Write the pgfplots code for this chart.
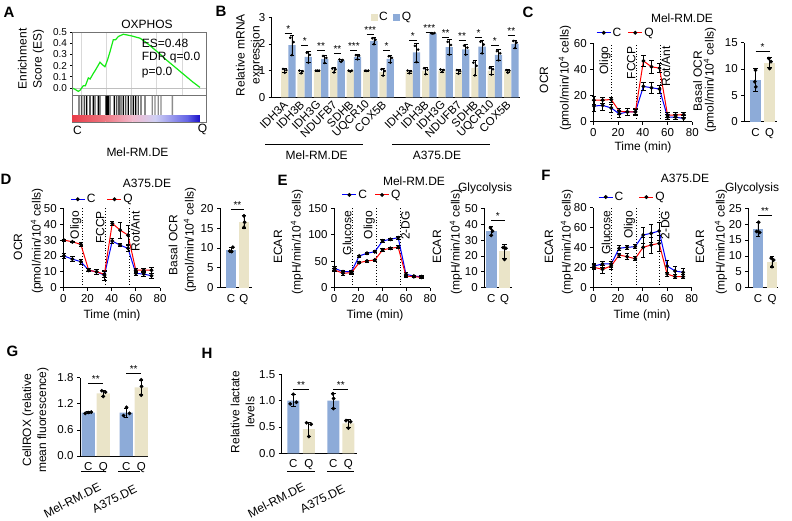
\documentclass[border=0pt]{standalone}
\usepackage{fontspec}
\setmainfont{Liberation Sans}
\usepackage{pgfplots}
\pgfplotsset{compat=1.18}

\definecolor{cblue}{RGB}{141,171,216}
\definecolor{cbeige}{RGB}{234,228,200}
\definecolor{esg}{RGB}{20,235,20}
\definecolor{cb1}{RGB}{232,60,72}
\definecolor{cb2}{RGB}{238,120,130}
\definecolor{cb3}{RGB}{242,185,205}
\definecolor{cb4}{RGB}{208,208,244}
\definecolor{cb5}{RGB}{100,100,230}
\definecolor{cb6}{RGB}{25,15,200}

\newcommand\fa{\fontsize{12}{15}\selectfont}
\newcommand\ft{\fontsize{11.5}{13}\selectfont}
\newcommand\fsm{\fontsize{10}{11}\selectfont}
\newcommand\fs{\fontsize{10}{10}\selectfont}
\newcommand\fp{\fontsize{15}{16}\selectfont\bfseries}
\newcommand\upm{(pmol/min/10\textsuperscript{4} cells)}
\newcommand\ump{(mpH/min/10\textsuperscript{4} cells)}

\pgfplotsset{
  every axis/.append style={scale only axis, clip=false, enlargelimits=false,
    axis line style={line width=0.8pt,-}, tick style={black,line width=0.8pt},
    major tick length=3pt, tick align=outside, tick label style={font=\ft},
    /pgf/number format/assume math mode=true},
  lr/.style={axis x line*=bottom, axis y line*=left},
  ebar/.style={error bars/y dir=both, error bars/y explicit,
    error bars/error bar style={black,line width=0.7pt,solid},
    error bars/error mark options={rotate=90,black,mark size=2.2pt,line width=0.7pt}},
  lc/.style={lr, xmin=0, xmax=80, xtick={0,20,40,60,80}, ymin=0,
    legend columns=2,
    legend style={draw=none, fill=none, anchor=south west, font=\fa, inner sep=0pt,
      nodes={inner sep=1.5pt}},
    legend image code/.code={\draw[mark repeat=2,mark phase=2,##1] plot coordinates {(0pt,0pt)(7pt,0pt)(14pt,0pt)};}},
  cl/.style={blue, line width=1pt, mark=*, mark size=1.4pt, mark options={black,fill=black}, ebar},
  ql/.style={red, line width=1pt, mark=*, mark size=1.4pt, mark options={black,fill=black}, ebar},
  bx/.style={lr, ymin=0, major x tick style={draw=none}},
  bar/.style={ybar, bar shift=0pt, draw=none, ebar},
  dots/.style={only marks, mark=*, mark size=1.7pt, black, forget plot},
  sdots/.style={only marks, mark=*, mark size=1.1pt, black, forget plot},
}

\begin{document}
\begin{tikzpicture}
\useasboundingbox (0,0) rectangle (792pt,-521pt);

\foreach \l/\x/\y in {A/9/12,B/221/11,C/528/12,D/6/179,E/282.5/180,F/546/175,G/12.5/351,H/207/353}
  \node[font=\fp] at (\x pt,-\y pt) {\l};

% ---------------- A: GSEA
\begin{axis}[at={(72pt,-95pt)}, anchor=south west, width=134pt, height=63pt,
  xmin=0, xmax=100, ymin=-0.0625, ymax=0.5,
  axis y line*=left, axis x line=none,
  axis line style={black!55,line width=0.6pt},
  ytick={0,0.1,0.2,0.3,0.4,0.5},
  yticklabels={0.0,0.1,0.2,0.3,0.4,0.5},
  major tick length=1.5pt,
  tick label style={font=\fsm}]
  \draw[black!15,line width=0.4pt] (axis cs:7,-0.0625) -- (axis cs:7,0.5);
  \draw[black!15,line width=0.4pt] (axis cs:25.8,-0.0625) -- (axis cs:25.8,0.5);
  \draw[black!15,line width=0.4pt] (axis cs:44.5,-0.0625) -- (axis cs:44.5,0.5);
  \draw[black!15,line width=0.4pt] (axis cs:63.2,-0.0625) -- (axis cs:63.2,0.5);
  \draw[black!15,line width=0.4pt] (axis cs:81.9,-0.0625) -- (axis cs:81.9,0.5);
  \draw[black!25,line width=0.5pt] (axis cs:0,0) -- (axis cs:100,0);
  \addplot[esg, line width=1.2pt] coordinates {
    (0,0.0) (2,-0.01) (4.7,-0.03) (6,-0.02) (8.4,0.02) (10,0.02) (12.2,0.09) (13.5,0.08)
    (15.9,0.13) (17.5,0.16) (20.9,0.23) (22.5,0.21) (24.6,0.19) (26.5,0.25) (28.5,0.33)
    (30.8,0.43) (32.5,0.43) (34.6,0.46) (36.5,0.47) (38.3,0.48) (40.5,0.475) (42.5,0.47)
    (44.6,0.465) (47.5,0.455) (50.7,0.445) (55,0.41) (60,0.36) (65,0.31) (70,0.255)
    (75,0.205) (80,0.155) (85,0.105) (90,0.055) (95.5,0.005)};
  \draw[black!55,line width=0.6pt] (rel axis cs:0,0) rectangle (rel axis cs:1,1);
\end{axis}
\begin{axis}[at={(72pt,-122.5pt)}, anchor=south west, width=134pt, height=27.5pt,
  xmin=0, xmax=100, ymin=0, ymax=27.5, xtick=\empty, ytick=\empty,
  axis line style={black!55,line width=0.6pt}]
  \shade[left color=cb1, right color=cb2] (axis cs:0,0.6) rectangle (axis cs:25,6.5);
  \shade[left color=cb2, right color=cb3] (axis cs:25,0.6) rectangle (axis cs:45,6.5);
  \shade[left color=cb3, right color=cb4] (axis cs:45,0.6) rectangle (axis cs:62,6.5);
  \shade[left color=cb4, right color=cb5] (axis cs:62,0.6) rectangle (axis cs:86,6.5);
  \shade[left color=cb5, right color=cb6] (axis cs:86,0.6) rectangle (axis cs:95.5,6.5);
\end{axis}
\begin{axis}[at={(72pt,-115pt)}, anchor=south west, width=134pt, height=19pt,
  xmin=0, xmax=100, ymin=0, ymax=1, hide axis]
  \addplot[ybar, bar width=1.3pt, fill=black!45, draw=none] coordinates {
    (59.9,1) (61.9,1) (64.4,1) (66.4,1) (74.9,1)};
  \addplot[ybar, bar width=1.3pt, fill=black!70, draw=none] coordinates {
    (5.2,1) (7.2,1) (9.2,1) (17.2,1) (20.9,1) (28.4,1) (33.3,1) (36.6,1) (40,1)
    (44,1) (49.5,1) (51.5,1) (54.5,1)};
  \addplot[ybar, bar width=1.3pt, fill=black, draw=none] coordinates {
    (10.9,1) (13.4,1) (15.9,1) (19.7,1) (25.3,1) (25.9,1) (26.5,1) (27.1,1) (31.6,1)
    (35.1,1) (38.3,1) (42,1) (45.8,1) (47.5,1)};
\end{axis}
\node[font=\fa] at (147pt,-24pt) {OXPHOS};
\node[font=\fa, anchor=west, inner sep=0pt] at (141.7pt,-43pt) {ES=0.48};
\node[font=\fa, anchor=west, inner sep=0pt] at (141.7pt,-58pt) {FDR q=0.0};
\node[font=\fa, anchor=west, inner sep=0pt] at (141.7pt,-73pt) {p=0.0};
\node[font=\fa] at (77.5pt,-130pt) {C};
\node[font=\fa] at (202.5pt,-129pt) {Q};
\node[font=\fa] at (137.5pt,-152pt) {Mel-RM.DE};
\node[font=\fa, rotate=90, align=center] at (31pt,-59pt) {Enrichment\\Score (ES)};

% ---------------- B: mRNA
\begin{axis}[lr, at={(271.7pt,-97.3pt)}, anchor=south west, width=248.3pt, height=80pt,
  xmin=-1.012, xmax=14.13, ymin=0, ymax=3, ytick={0,1,2,3},
  xtick={0,1,2,3,4,5,6,7.6,8.6,9.6,10.6,11.6,12.6,13.6},
  xticklabels={IDH3A,IDH3B,IDH3G,NDUFB7,SDHB,UQCR10,COX5B,IDH3A,IDH3B,IDH3G,NDUFB7,SDHB,UQCR10,COX5B},
  xticklabel style={rotate=45, anchor=east, font=\fontsize{11.5}{12}\selectfont},
  major x tick style={draw=none},
  legend columns=2,
  legend style={draw=none, fill=none, at={(0.398,1.0)}, anchor=west, font=\fa, inner sep=0pt,
    nodes={inner sep=1.5pt}, /tikz/every even column/.append style={column sep=4pt}},
  legend image code/.code={\fill[#1] (0pt,-3.5pt) rectangle (7pt,3.5pt);}]
  \addplot[bar, bar width=0.445, fill=cbeige] coordinates {
    (-0.22,1.00) +- (0,0.08) (0.78,0.96) +- (0,0.06) (1.78,1.00) +- (0,0.01)
    (2.78,1.02) +- (0,0.09) (3.78,0.99) +- (0,0.02) (4.78,1.00) +- (0,0.01)
    (5.78,0.95) +- (0,0.14) (7.38,0.96) +- (0,0.06) (8.38,1.00) +- (0,0.13)
    (9.38,1.00) +- (0,0.05) (10.38,0.96) +- (0,0.08) (11.38,1.10) +- (0,0.28)
    (12.38,1.00) +- (0,0.15) (13.38,0.98) +- (0,0.06)};
  \addlegendentry{C}
  \addplot[bar, bar width=0.445, fill=cblue] coordinates {
    (0.22,1.96) +- (0,0.38) (1.22,1.52) +- (0,0.22) (2.22,1.44) +- (0,0.15)
    (3.22,1.38) +- (0,0.05) (4.22,1.52) +- (0,0.09) (5.22,2.12) +- (0,0.13)
    (6.22,1.44) +- (0,0.14) (7.82,1.68) +- (0,0.36) (8.82,2.40) +- (0,0.01)
    (9.82,1.88) +- (0,0.28) (10.82,1.80) +- (0,0.20) (11.82,1.90) +- (0,0.25)
    (12.82,1.59) +- (0,0.20) (13.82,2.00) +- (0,0.15)};
  \addlegendentry{Q}
  \addplot[sdots] coordinates {
    (-0.32,1.06) (-0.12,1.02) (-0.22,0.92) (0.68,1.00) (0.88,0.98) (0.78,0.90)
    (1.68,1.0) (1.88,1.0) (1.78,1.0) (2.68,1.08) (2.88,1.05) (2.78,0.93)
    (3.68,1.0) (3.88,1.0) (3.78,0.97) (4.68,1.0) (4.88,1.0) (4.78,0.99)
    (5.68,1.05) (5.88,0.99) (5.78,0.81) (7.28,1.0) (7.48,0.98) (7.38,0.90)
    (8.28,1.09) (8.48,1.04) (8.38,0.87) (9.28,1.04) (9.48,1.02) (9.38,0.95)
    (10.28,1.02) (10.48,0.98) (10.38,0.88) (11.28,1.3) (11.48,1.18) (11.38,0.82)
    (12.28,1.1) (12.48,1.05) (12.38,0.85) (13.28,1.02) (13.48,1.0) (13.38,0.92)};
  \addplot[sdots] coordinates {
    (0.12,2.23) (0.32,2.07) (0.22,1.58) (1.12,1.67) (1.32,1.59) (1.22,1.30)
    (2.12,1.55) (2.32,1.48) (2.22,1.29) (3.12,1.42) (3.32,1.4) (3.22,1.33)
    (4.12,1.58) (4.32,1.55) (4.22,1.43) (5.12,2.21) (5.32,2.16) (5.22,1.99)
    (6.12,1.54) (6.32,1.48) (6.22,1.30) (7.72,1.93) (7.92,1.79) (7.82,1.32)
    (8.72,2.4) (8.92,2.41) (8.82,2.39) (9.72,2.08) (9.92,1.96) (9.82,1.6)
    (10.72,1.94) (10.92,1.86) (10.82,1.6) (11.72,2.08) (11.92,1.98) (11.82,1.65)
    (12.72,1.73) (12.92,1.65) (12.82,1.39) (13.72,2.11) (13.92,2.05) (13.82,1.85)};
  \draw[line width=0.6pt] (axis cs:-0.22,2.40) -- (axis cs:0.22,2.40) node[midway,above,inner sep=0.5pt,font=\fs] {*};
  \draw[line width=0.6pt] (axis cs:0.78,1.94) -- (axis cs:1.22,1.94) node[midway,above,inner sep=0.5pt,font=\fs] {*};
  \draw[line width=0.6pt] (axis cs:1.78,1.77) -- (axis cs:2.22,1.77) node[midway,above,inner sep=0.5pt,font=\fs] {**};
  \draw[line width=0.6pt] (axis cs:2.78,1.65) -- (axis cs:3.22,1.65) node[midway,above,inner sep=0.5pt,font=\fs] {**};
  \draw[line width=0.6pt] (axis cs:3.78,1.77) -- (axis cs:4.22,1.77) node[midway,above,inner sep=0.5pt,font=\fs] {***};
  \draw[line width=0.6pt] (axis cs:4.78,2.36) -- (axis cs:5.22,2.36) node[midway,above,inner sep=0.5pt,font=\fs] {***};
  \draw[line width=0.6pt] (axis cs:5.78,1.75) -- (axis cs:6.22,1.75) node[midway,above,inner sep=0.5pt,font=\fs] {*};
  \draw[line width=0.6pt] (axis cs:7.38,2.12) -- (axis cs:7.82,2.12) node[midway,above,inner sep=0.5pt,font=\fs] {*};
  \draw[line width=0.6pt] (axis cs:8.38,2.45) -- (axis cs:8.82,2.45) node[midway,above,inner sep=0.5pt,font=\fs] {***};
  \draw[line width=0.6pt] (axis cs:9.38,2.25) -- (axis cs:9.82,2.25) node[midway,above,inner sep=0.5pt,font=\fs] {**};
  \draw[line width=0.6pt] (axis cs:10.38,2.12) -- (axis cs:10.82,2.12) node[midway,above,inner sep=0.5pt,font=\fs] {**};
  \draw[line width=0.6pt] (axis cs:11.38,2.25) -- (axis cs:11.82,2.25) node[midway,above,inner sep=0.5pt,font=\fs] {*};
  \draw[line width=0.6pt] (axis cs:12.38,1.94) -- (axis cs:12.82,1.94) node[midway,above,inner sep=0.5pt,font=\fs] {*};
  \draw[line width=0.6pt] (axis cs:13.38,2.31) -- (axis cs:13.82,2.31) node[midway,above,inner sep=0.5pt,font=\fs] {**};
\end{axis}
\node[font=\fa, rotate=90, align=center] at (249pt,-55pt) {Relative mRNA\\expression};
\draw[line width=0.8pt] (265pt,-144pt) -- (363pt,-144pt);
\draw[line width=0.8pt] (392pt,-144pt) -- (490pt,-144pt);
\node[font=\fa] at (316.7pt,-155pt) {Mel-RM.DE};
\node[font=\fa] at (437pt,-155pt) {A375.DE};

% ---------------- C: OCR Mel
\begin{axis}[lc, at={(593.3pt,-121.7pt)}, anchor=south west, width=99pt, height=78.4pt,
  ymax=60, ytick={0,20,40,60},
  legend style={at={(0.027,1.05)}, /tikz/every even column/.append style={column sep=5pt}}]
  \draw[dotted,line width=0.8pt] (axis cs:15,0) -- (axis cs:15,60);
  \draw[dotted,line width=0.8pt] (axis cs:35,0) -- (axis cs:35,60);
  \draw[dotted,line width=0.8pt] (axis cs:54,0) -- (axis cs:54,60);
  \addplot[cl] coordinates {(0.5,12) +- (0,4) (7.5,12.5) +- (0,4) (14.5,10.5) +- (0,3)
    (21,6) +- (0,3) (27.5,7.5) +- (0,3) (34,7.5) +- (0,3) (40.5,27) +- (0,3)
    (47,26) +- (0,4) (53.5,25) +- (0,3) (60,3.5) +- (0,2) (66.5,3.5) +- (0,2) (73,2.5) +- (0,2)};
  \addlegendentry{C}
  \addplot[ql] coordinates {(0.5,16.5) +- (0,3) (7.5,16.5) +- (0,2.5) (14.5,17) +- (0,2)
    (21,8) +- (0,2) (27.5,7.5) +- (0,2.5) (34,7.5) +- (0,2) (40.5,46.5) +- (0,4.5)
    (47,42) +- (0,5) (53.5,41) +- (0,3.5) (60,5) +- (0,2) (66.5,5) +- (0,2) (73,5.5) +- (0,2)};
  \addlegendentry{Q}
  \node[font=\fa, rotate=90, anchor=south east, inner sep=1pt] at (axis cs:15,58.5) {Oligo};
  \node[font=\fa, rotate=90, anchor=south east, inner sep=1pt] at (axis cs:35,58.5) {FCCP};
  \node[font=\fa, rotate=90, anchor=north east, inner sep=1pt] at (axis cs:54,58.5) {Rot/Ant};
\end{axis}
\node[font=\fa] at (682pt,-18pt) {Mel-RM.DE};
\node[font=\fa] at (643pt,-147pt) {Time (min)};
\node[font=\fa, rotate=90] at (544pt,-80pt) {OCR};
\node[font=\fa, rotate=90] at (565pt,-78pt) {\upm};

\begin{axis}[bx, at={(744.3pt,-121.7pt)}, anchor=south west, width=32.4pt, height=79pt,
  xmin=-0.8, xmax=1.51, ymax=15, ytick={0,5,10,15}, xtick={0,1}, xticklabels={C,Q}]
  \addplot[bar, bar width=0.79, fill=cblue] coordinates {(0,8.0) +- (0,2.2)};
  \addplot[bar, bar width=0.79, fill=cbeige] coordinates {(1,11.2) +- (0,0.95)};
  \addplot[dots] coordinates {(0,9.8) (-0.05,7.6) (0.02,6.6) (0.95,12.0) (1.1,11.4) (1.0,10.1)};
  \draw[line width=0.7pt] (axis cs:0,13.3) -- (axis cs:1,13.3) node[midway,above,inner sep=0.5pt,font=\fs] {*};
\end{axis}
\node[font=\fa, rotate=90] at (697.5pt,-81pt) {Basal OCR};
\node[font=\fa, rotate=90] at (710pt,-80pt) {\upm};

% ---------------- D: OCR A375
\begin{axis}[lc, at={(63.3pt,-287.7pt)}, anchor=south west, width=96.7pt, height=79.4pt,
  ymax=50, ytick={0,10,20,30,40,50},
  legend style={at={(0.07,1.03)}, /tikz/every even column/.append style={column sep=10pt}}]
  \draw[dotted,line width=0.8pt] (axis cs:16,0) -- (axis cs:16,50);
  \draw[dotted,line width=0.8pt] (axis cs:35,0) -- (axis cs:35,50);
  \draw[dotted,line width=0.8pt] (axis cs:55,0) -- (axis cs:55,50);
  \addplot[cl] coordinates {(0.5,20) +- (0,1.5) (7.5,18) +- (0,1.5) (14.5,16.4) +- (0,1.5)
    (21,11) +- (0,1) (27.5,10) +- (0,1.5) (34,7.9) +- (0,3) (40.5,29.4) +- (0,1.5)
    (47,26.8) +- (0,1) (53.5,24.8) +- (0,2) (60,9) +- (0,1) (66.5,8.6) +- (0,1.5) (73,7.5) +- (0,1.5)};
  \addlegendentry{C}
  \addplot[ql] coordinates {(0.5,30) +- (0,0.5) (7.5,28.9) +- (0,0.5) (14.5,27.3) +- (0,1)
    (21,11) +- (0,1) (27.5,10) +- (0,1.5) (34,8.5) +- (0,2) (40.5,40.5) +- (0,1.5)
    (47,36.3) +- (0,5) (53.5,33.1) +- (0,6) (60,11) +- (0,1.5) (66.5,11) +- (0,1.5) (73,11) +- (0,2)};
  \addlegendentry{Q}
  \node[font=\fa, rotate=90, anchor=south east, inner sep=1pt] at (axis cs:16,49) {Oligo};
  \node[font=\fa, rotate=90, anchor=south east, inner sep=1pt] at (axis cs:35,49) {FCCP};
  \node[font=\fa, rotate=90, anchor=north east, inner sep=1pt] at (axis cs:55,49) {Rot/Ant};
\end{axis}
\node[font=\fa] at (147pt,-183pt) {A375.DE};
\node[font=\fa] at (112pt,-315pt) {Time (min)};
\node[font=\fa, rotate=90] at (18pt,-247pt) {OCR};
\node[font=\fa, rotate=90] at (37pt,-241pt) {\upm};

\begin{axis}[bx, at={(220pt,-287.7pt)}, anchor=south west, width=31.7pt, height=79.4pt,
  xmin=-0.85, xmax=1.6, ymax=20, ytick={0,5,10,15,20}, xtick={0,1}, xticklabels={C,Q}]
  \addplot[bar, bar width=0.77, fill=cblue] coordinates {(0,9.5) +- (0,0.6)};
  \addplot[bar, bar width=0.77, fill=cbeige] coordinates {(1,16.6) +- (0,1.6)};
  \addplot[dots] coordinates {(-0.1,9.2) (0.05,9.1) (0.15,10.2) (1,18.1) (1.05,16.5) (1,15.2)};
  \draw[line width=0.7pt] (axis cs:0,19.8) -- (axis cs:1,19.8) node[midway,above,inner sep=0.5pt,font=\fs] {**};
\end{axis}
\node[font=\fa, rotate=90] at (173pt,-245pt) {Basal OCR};
\node[font=\fa, rotate=90] at (190pt,-240pt) {\upm};

% ---------------- E: ECAR Mel
\begin{axis}[lc, at={(334pt,-287.7pt)}, anchor=south west, width=96pt, height=79.4pt,
  ymax=150, ytick={0,50,100,150},
  legend style={at={(0.08,1.085)}, /tikz/every even column/.append style={column sep=6pt}}]
  \draw[dotted,line width=0.8pt] (axis cs:15.5,0) -- (axis cs:15.5,150);
  \draw[dotted,line width=0.8pt] (axis cs:35,0) -- (axis cs:35,150);
  \draw[dotted,line width=0.8pt] (axis cs:55,0) -- (axis cs:55,150);
  \addplot[cl] coordinates {(0.5,36.7) +- (0,4) (7.5,30.2) +- (0,3) (14.5,30.2) +- (0,3)
    (21,60) +- (0,2) (27.5,65) +- (0,2) (34,68) +- (0,2) (40.5,88.3) +- (0,3)
    (47,91.5) +- (0,2) (53.5,94.5) +- (0,3) (60,25.3) +- (0,3) (66.5,22) +- (0,2) (73,20.8) +- (0,2)};
  \addlegendentry{C}
  \addplot[ql] coordinates {(0.5,33.5) +- (0,3) (7.5,27.2) +- (0,3) (14.5,28.4) +- (0,3)
    (21,47.3) +- (0,2) (27.5,50.5) +- (0,2) (34,52.4) +- (0,2) (40.5,71.3) +- (0,3)
    (47,74.5) +- (0,2) (53.5,76.4) +- (0,3) (60,22) +- (0,2) (66.5,20.8) +- (0,2) (73,19.7) +- (0,2)};
  \addlegendentry{Q}
  \node[font=\fa, rotate=90, anchor=south east, inner sep=1pt] at (axis cs:15.5,147) {Glucose};
  \node[font=\fa, rotate=90, anchor=south east, inner sep=1pt] at (axis cs:35,147) {Oligo};
  \node[font=\fa, rotate=90, anchor=north east, inner sep=1pt] at (axis cs:55,147) {2-DG};
\end{axis}
\node[font=\fa] at (414pt,-181pt) {Mel-RM.DE};
\node[font=\fa] at (375pt,-315pt) {Time (min)};
\node[font=\fa, rotate=90] at (278pt,-247pt) {ECAR};
\node[font=\fa, rotate=90] at (297pt,-242pt) {\ump};

\begin{axis}[bx, at={(484.3pt,-287.7pt)}, anchor=south west, width=27.4pt, height=79.4pt,
  xmin=-0.52, xmax=1.54, ymax=50, ytick={0,10,20,30,40,50}, xtick={0,1}, xticklabels={C,Q}]
  \addplot[bar, bar width=0.83, fill=cblue] coordinates {(0,35.7) +- (0,3)};
  \addplot[bar, bar width=0.83, fill=cbeige] coordinates {(1,22.8) +- (0,4.5)};
  \addplot[dots] coordinates {(-0.05,37.7) (0.1,35.6) (0,33) (0.9,25.3) (1.1,24.8) (1,17.8)};
  \draw[line width=0.7pt] (axis cs:0,42.7) -- (axis cs:1,42.7) node[midway,above,inner sep=0.5pt,font=\fs] {*};
\end{axis}
\node[font=\fa] at (485pt,-188pt) {Glycolysis};
\node[font=\fa, rotate=90] at (437pt,-247pt) {ECAR};
\node[font=\fa, rotate=90] at (456pt,-242pt) {\ump};

% ---------------- F: ECAR A375
\begin{axis}[lc, at={(593.3pt,-287.7pt)}, anchor=south west, width=98.4pt, height=80pt,
  ymax=80, ytick={0,20,40,60,80},
  legend style={at={(0.048,1.05)}, /tikz/every even column/.append style={column sep=14pt}}]
  \draw[dotted,line width=0.8pt] (axis cs:15,0) -- (axis cs:15,80);
  \draw[dotted,line width=0.8pt] (axis cs:35,0) -- (axis cs:35,80);
  \draw[dotted,line width=0.8pt] (axis cs:54,0) -- (axis cs:54,80);
  \addplot[cl] coordinates {(0.5,21.7) +- (0,2.5) (7.5,23.7) +- (0,3) (14.5,23.7) +- (0,3)
    (21,39.4) +- (0,2.5) (27.5,40.4) +- (0,2) (34,41) +- (0,2) (40.5,52.7) +- (0,8)
    (47,54.4) +- (0,9) (53.5,56.7) +- (0,9) (60,21.7) +- (0,6) (66.5,16.7) +- (0,5) (73,15.4) +- (0,4)};
  \addlegendentry{C}
  \addplot[ql] coordinates {(0.5,20.4) +- (0,2.5) (7.5,18.4) +- (0,4) (14.5,21.7) +- (0,3)
    (21,32.7) +- (0,2) (27.5,31) +- (0,3) (34,29) +- (0,2) (40.5,40.4) +- (0,10)
    (47,42.7) +- (0,8) (53.5,44.4) +- (0,8) (60,13.7) +- (0,2) (66.5,11) +- (0,2) (73,11) +- (0,2)};
  \addlegendentry{Q}
  \node[font=\fa, rotate=90, anchor=south east, inner sep=1pt] at (axis cs:15,78) {Glucose};
  \node[font=\fa, rotate=90, anchor=south east, inner sep=1pt] at (axis cs:35,78) {Oligo};
  \node[font=\fa, rotate=90, anchor=north east, inner sep=1pt] at (axis cs:54,78) {2-DG};
\end{axis}
\node[font=\fa] at (685pt,-178pt) {A375.DE};
\node[font=\fa] at (642pt,-315pt) {Time (min)};
\node[font=\fa, rotate=90] at (549pt,-247pt) {ECAR};
\node[font=\fa, rotate=90] at (567pt,-242pt) {\ump};

\begin{axis}[bx, at={(748.3pt,-287.7pt)}, anchor=south west, width=29.7pt, height=79.4pt,
  xmin=-0.69, xmax=1.43, ymax=25, ytick={0,5,10,15,20,25}, xtick={0,1}, xticklabels={C,Q}]
  \addplot[bar, bar width=0.76, fill=cblue] coordinates {(0,18.5) +- (0,2.2)};
  \addplot[bar, bar width=0.76, fill=cbeige] coordinates {(1,8.2) +- (0,1.7)};
  \addplot[dots] coordinates {(0.05,20.6) (-0.1,17.7) (0.12,17.4) (0.95,9.3) (1.12,8.7) (1,6.6)};
  \draw[line width=0.7pt] (axis cs:0,22.9) -- (axis cs:1,22.9) node[midway,above,inner sep=0.5pt,font=\fs] {**};
\end{axis}
\node[font=\fa] at (752pt,-188pt) {Glycolysis};
\node[font=\fa, rotate=90] at (700pt,-247pt) {ECAR};
\node[font=\fa, rotate=90] at (721pt,-242pt) {\ump};

% ---------------- G: CellROX
\begin{axis}[bx, at={(80pt,-456pt)}, anchor=south west, width=68pt, height=78.3pt,
  xmin=-0.55, xmax=3.98, ymax=1.8, ytick={0,0.6,1.2,1.8},
  yticklabel style={/pgf/number format/.cd, fixed, fixed zerofill, precision=1},
  xtick={0,1,2.53,3.53}, xticklabels={C,Q,C,Q}]
  \addplot[bar, bar width=0.89, fill=cblue] coordinates {(0,1.0) +- (0,0.02) (2.53,1.0) +- (0,0.1)};
  \addplot[bar, bar width=0.89, fill=cbeige] coordinates {(1,1.44) +- (0,0.07) (3.53,1.58) +- (0,0.17)};
  \addplot[dots] coordinates {(-0.2,0.98) (0,1.0) (0.2,1.01) (0.9,1.5) (1.15,1.47) (1,1.37)
    (2.35,0.93) (2.55,1.12) (2.75,0.98) (3.53,1.75) (3.55,1.6) (3.53,1.4)};
  \draw[line width=0.7pt] (axis cs:0,1.67) -- (axis cs:1,1.67) node[midway,above,inner sep=0.5pt,font=\fs] {**};
  \draw[line width=0.7pt] (axis cs:2.53,1.9) -- (axis cs:3.53,1.9) node[midway,above,inner sep=0.5pt,font=\fs] {**};
\end{axis}
\draw[line width=0.8pt] (81pt,-471.7pt) -- (106pt,-471.7pt);
\draw[line width=0.8pt] (118pt,-471.7pt) -- (140pt,-471.7pt);
\node[font=\fa, rotate=27, anchor=east, inner sep=0pt] at (100pt,-486pt) {Mel-RM.DE};
\node[font=\fa, rotate=27, anchor=east, inner sep=0pt] at (136pt,-488pt) {A375.DE};
\node[font=\fa, rotate=90, align=center] at (35.5pt,-420pt) {CellROX (relative\\mean fluorescence)};

% ---------------- H: lactate
\begin{axis}[bx, at={(281.7pt,-453.3pt)}, anchor=south west, width=75pt, height=79pt,
  xmin=-0.75, xmax=4.09, ymax=1.5, ytick={0,0.5,1.0,1.5},
  yticklabel style={/pgf/number format/.cd, fixed, fixed zerofill, precision=1},
  xtick={0,1,2.58,3.55}, xticklabels={C,Q,C,Q}]
  \addplot[bar, bar width=0.77, fill=cblue] coordinates {(0,1.0) +- (0,0.11) (2.58,1.0) +- (0,0.14)};
  \addplot[bar, bar width=0.77, fill=cbeige] coordinates {(1,0.46) +- (0,0.13) (3.55,0.57) +- (0,0.08)};
  \addplot[dots] coordinates {(-0.2,0.94) (0,1.12) (0.2,0.97) (0.85,0.58) (1.15,0.55) (1,0.32)
    (2.55,1.13) (2.6,1.04) (2.58,0.85) (3.4,0.62) (3.7,0.6) (3.55,0.48)};
  \draw[line width=0.7pt] (axis cs:0,1.21) -- (axis cs:1,1.21) node[midway,above,inner sep=0.5pt,font=\fs] {**};
  \draw[line width=0.7pt] (axis cs:2.58,1.21) -- (axis cs:3.55,1.21) node[midway,above,inner sep=0.5pt,font=\fs] {**};
\end{axis}
\draw[line width=0.8pt] (287pt,-471.7pt) -- (315pt,-471.7pt);
\draw[line width=0.8pt] (327pt,-471.7pt) -- (354pt,-471.7pt);
\node[font=\fa, rotate=27, anchor=east, inner sep=0pt] at (304pt,-486pt) {Mel-RM.DE};
\node[font=\fa, rotate=27, anchor=east, inner sep=0pt] at (344pt,-488pt) {A375.DE};
\node[font=\fa, rotate=90, align=center] at (242.5pt,-412pt) {Relative lactate\\levels};

\end{tikzpicture}
\end{document}
